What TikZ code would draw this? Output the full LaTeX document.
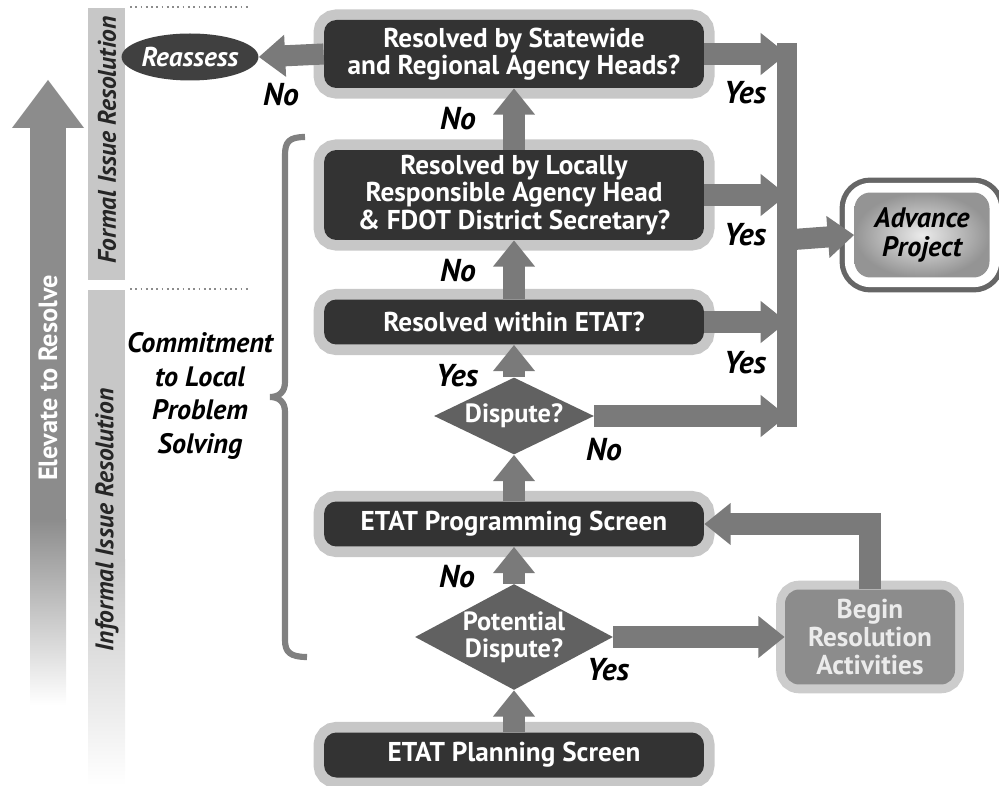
\documentclass[tikz,border=0pt]{standalone}
\usepackage{fontspec}
\setmainfont{PT Sans}
\usetikzlibrary{arrows.meta,shapes.geometric,positioning}

\begin{document}
\begin{tikzpicture}[x=0.02cm, y=-0.02cm,
    every node/.style={font=\bfseries},
    darkbox/.style={rounded corners=7pt, fill=black!80, text=white, align=center,
        minimum width=7.6cm, inner sep=2pt, font=\fontsize{15.5}{15.5}\selectfont\bfseries,
        preaction={draw=black!22, line width=12pt}},
    query/.style={diamond, fill=black!62, text=white, align=center, inner sep=0pt,
        font=\fontsize{15}{15.5}\selectfont\bfseries},
    flow/.style={draw=black!52, line width=12pt, -{Triangle[width=23pt,length=15pt]}},
    answer/.style={font=\fontsize{18}{19}\selectfont\bfseries\itshape},
    band/.style={font=\fontsize{14.5}{15}\selectfont\bfseries\itshape, text=black!85, rotate=90}]

    \useasboundingbox (0,0) rectangle (999,786);

    % Elevate arrow
    \fill[black!45] (30,126) rectangle (66,520);
    \shade[top color=black!45, bottom color=white] (30,519) rectangle (66,705);
    \fill[black!45] (12,128) -- (48,80) -- (84,128) -- cycle;
    \node[rotate=90, text=white, font=\fontsize{15}{16}\selectfont\bfseries] (elev) at (48,378) {Elevate to Resolve};

    % Bands
    \fill[black!22] (88,8) rectangle (125,280);
    \fill[black!22] (88,290) rectangle (125,560);
    \shade[top color=black!22, bottom color=white] (88,559) rectangle (125,785);
    \node[band] (formal) at (107,140) {Formal Issue Resolution};
    \node[band] (informal) at (107,520) {Informal Issue Resolution};
    \draw[black!45, dotted, line width=1pt] (130,7) -- (250,7);
    \draw[black!45, dotted, line width=1pt] (130,289) -- (250,289);

    % Brace
    \draw[black!50, line width=3.5pt] (305,137) .. controls (289,137) and (285,142) .. (285,155)
        -- (285,382) .. controls (285,392) and (279,397) .. (270,397)
        .. controls (279,397) and (285,402) .. (285,412) -- (285,640)
        .. controls (285,652) and (290,657) .. (307,657);
    \node[align=center, font=\fontsize{16}{19}\selectfont\bfseries\itshape] (commit) at (200,396)
        {Commitment\\to Local\\Problem\\Solving};

    % Main column
    \node[darkbox, minimum height=1.36cm] (statewide) at (514,54) {Resolved by Statewide\\and Regional Agency Heads?};
    \node[darkbox, minimum height=1.8cm] (locally) at (514,195) {Resolved by Locally\\Responsible Agency Head\\\& FDOT District Secretary?};
    \node[darkbox, minimum height=0.9cm] (etat) at (514,322) {Resolved within ETAT?};
    \node[query, aspect=2.08, minimum width=3.2cm, minimum height=1.54cm] (dispute) at (514,416) {Dispute?};
    \node[darkbox, minimum height=0.9cm] (programming) at (514,524) {ETAT Programming Screen};
    \node[query, aspect=1.87, minimum width=3.9cm, minimum height=2.1cm] (potential) at (514,637) {Potential\\Dispute?};
    \node[darkbox, minimum height=0.9cm] (planning) at (514,755) {ETAT Planning Screen};

    % Side nodes
    \node[ellipse, fill=black!75, text=white, minimum width=2.4cm, minimum height=0.94cm, inner sep=0pt,
        font=\fontsize{15.5}{16}\selectfont\bfseries\itshape] (reassess) at (190,57) {Reassess};
    \node[rounded corners=8pt, fill=black!45, text=white!92!black, align=center,
        minimum width=3.4cm, minimum height=1.9cm, preaction={draw=black!20, line width=10pt},
        font=\fontsize{15.5}{16}\selectfont\bfseries] (resolution) at (870,637) {Begin\\Resolution\\Activities};
    \node[rounded corners=9pt, inner color=black!8, outer color=black!42, align=center,
        minimum width=2.7cm, minimum height=1.7cm,
        preaction={draw=black!60, line width=17pt}, preaction={draw=white, line width=11pt},
        font=\fontsize{16}{16.5}\selectfont\bfseries\itshape] (advance) at (922,235) {Advance\\Project};

    % Bus
    \coordinate (bustop) at (787,43);
    \coordinate (busbot) at (787,427);
    \coordinate (busmid) at (787,240);
    \draw[black!52, line width=11.5pt] (bustop) -- (busbot);

    % Connectors
    \draw[flow] (planning.north) -- (potential.south);
    \draw[flow] (potential.north) -- (programming.south);
    \draw[flow] (programming.north) -- (dispute.south);
    \draw[flow] (dispute.north) -- (etat.south);
    \draw[flow] (etat.north) -- (locally.south);
    \draw[flow] (locally.north) -- (statewide.south);
    \draw[flow] (statewide.west) -- (reassess.east);
    \draw[flow] (statewide.east) -- (statewide.east -| bustop);
    \draw[flow] (locally.east) -- (locally.east -| bustop);
    \draw[flow] (etat.east) -- (etat.east -| bustop);
    \draw[flow] (dispute.east) -- (dispute.east -| bustop);
    \draw[flow] (busmid) -- (advance.west);
    \draw[flow] (potential.east) -- (resolution.west);
    \draw[flow] (resolution.north) |- (programming.east);

    % Answers
    \node[answer] (no1) at (281,95) {No};
    \node[answer] (no2) at (458,119) {No};
    \node[answer] (no3) at (458,271) {No};
    \node[answer] (yes1) at (457,376) {Yes};
    \node[answer] (no4) at (457,577) {No};
    \node[answer] (no5) at (604,450) {No};
    \node[answer] (yes2) at (608,670) {Yes};
    \node[answer] (yes3) at (745,93) {Yes};
    \node[answer] (yes4) at (745,235) {Yes};
    \node[answer] (yes5) at (745,363) {Yes};
\end{tikzpicture}
\end{document}
